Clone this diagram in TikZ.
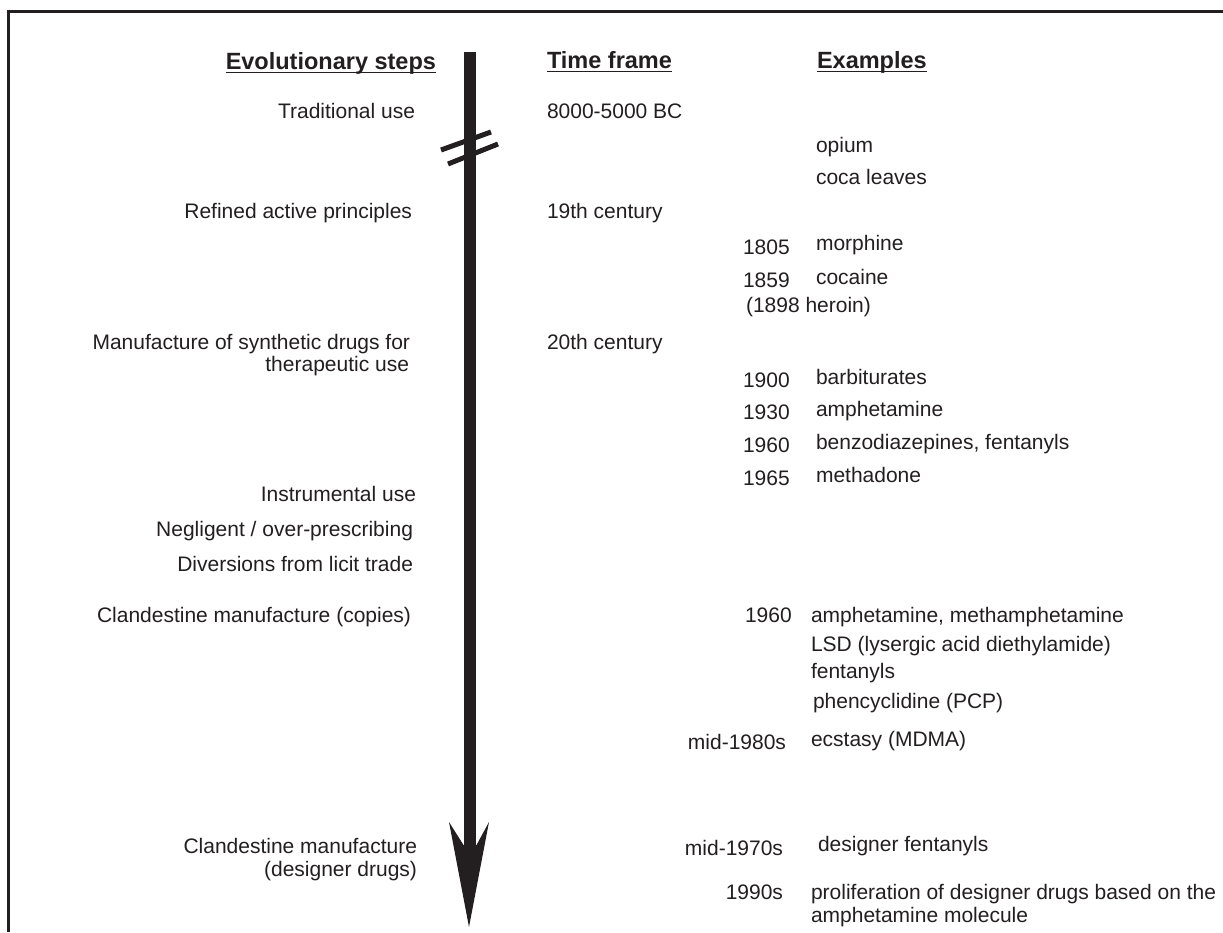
\documentclass[tikz,border=0pt]{standalone}
\usepackage{fontspec}
\setmainfont{Liberation Sans}
\definecolor{ink}{HTML}{231F20}
\begin{document}
\begin{tikzpicture}[x=1pt,y=-1pt,
  every node/.style={inner sep=0pt, outer sep=0pt, text=ink},
  txt/.style={font=\fontsize{21}{25}\selectfont},
  hd/.style={font=\bfseries\fontsize{23.5}{28}\selectfont},
  lft/.style={txt, anchor=base east},
  rgt/.style={txt, anchor=base west},
  uline/.style={draw=ink, line width=1.6pt},
  brk/.style={draw=ink, line width=5pt},
]
\useasboundingbox (0,0) rectangle (1223,932);
\fill[white] (0,0) rectangle (1223,932);
% frame
\draw[ink, line width=2.8pt] (8.7,932) -- (8.7,11.3) -- (1223,11.3);
% arrow
\coordinate (atop) at (470,52);
\coordinate (abot) at (470,845);
\coordinate (atip) at (469,927);
\fill[ink] (464,52) rectangle (476,846);
\fill[ink] (463.5,845) -- (449,822) -- (atip) -- (489,822) -- (476.5,845) -- cycle;
\draw[brk] (441,150) -- (491,132);
\draw[brk] (448,164) -- (498,144);
% headers
\node[hd, anchor=base east] (h1) at (436,69) {Evolutionary steps};
\draw[uline] ([yshift=-3.5pt]h1.base west) -- ([yshift=-3.5pt]h1.base east);
\node[hd, anchor=base west] (h2) at (547,68) {Time frame};
\draw[uline] ([yshift=-3.5pt]h2.base west) -- ([yshift=-3.5pt]h2.base east);
\node[hd, anchor=base west] (h3) at (817,68) {Examples};
\draw[uline] ([yshift=-3.5pt]h3.base west) -- ([yshift=-3.5pt]h3.base east);
% left column
\node[lft] (s1) at (415,118) {Traditional use};
\node[lft] (s2) at (412,218) {Refined active principles};
\node[lft] (s3a) at (410,349) {Manufacture of synthetic drugs for};
\node[lft] (s3b) at (409,371) {therapeutic use};
\node[lft] (s4) at (416,501) {Instrumental use};
\node[lft] (s5) at (413,536) {Negligent / over-prescribing};
\node[lft] (s6) at (413,571) {Diversions from licit trade};
\node[lft] (s7) at (411,622) {Clandestine manufacture (copies)};
\node[lft] (s8a) at (417,853) {Clandestine manufacture};
\node[lft] (s8b) at (417,876) {(designer drugs)};
% time frame column
\node[rgt] (t1) at (547,118) {8000-5000 BC};
\node[rgt] (t2) at (547,218) {19th century};
\node[rgt] (t3) at (547,349) {20th century};
% dates
\node[rgt] (d1) at (743,254) {1805};
\node[rgt] (d2) at (743,287) {1859};
\node[rgt] (d3) at (743,387) {1900};
\node[rgt] (d4) at (743,419) {1930};
\node[rgt] (d5) at (743,452) {1960};
\node[rgt] (d6) at (743,485) {1965};
\node[rgt] (d7) at (745,622) {1960};
\node[lft] (d8) at (786,749) {mid-1980s};
\node[lft] (d9) at (783,855) {mid-1970s};
\node[lft] (d10) at (783,899) {1990s};
% examples
\node[rgt] (e1) at (816,152) {opium};
\node[rgt] (e2) at (816,184) {coca leaves};
\node[rgt] (e3) at (816,250) {morphine};
\node[rgt] (e4) at (816,284) {cocaine};
\node[rgt] (e5) at (746,312) {(1898 heroin)};
\node[rgt] (e6) at (816,384) {barbiturates};
\node[rgt] (e7) at (816,416) {amphetamine};
\node[rgt] (e8) at (816,449) {benzodiazepines, fentanyls};
\node[rgt] (e9) at (816,482) {methadone};
\node[rgt] (e10) at (811,622) {amphetamine, methamphetamine};
\node[rgt] (e11) at (811,651) {LSD (lysergic acid diethylamide)};
\node[rgt] (e12) at (811,678) {fentanyls};
\node[rgt] (e13) at (813,708) {phencyclidine (PCP)};
\node[rgt] (e14) at (811,746) {ecstasy (MDMA)};
\node[rgt] (e15) at (818,851) {designer fentanyls};
\node[rgt] (e16) at (811,899) {proliferation of designer drugs based on the};
\node[rgt] (e17) at (811,922) {amphetamine molecule};
\end{tikzpicture}
\end{document}
